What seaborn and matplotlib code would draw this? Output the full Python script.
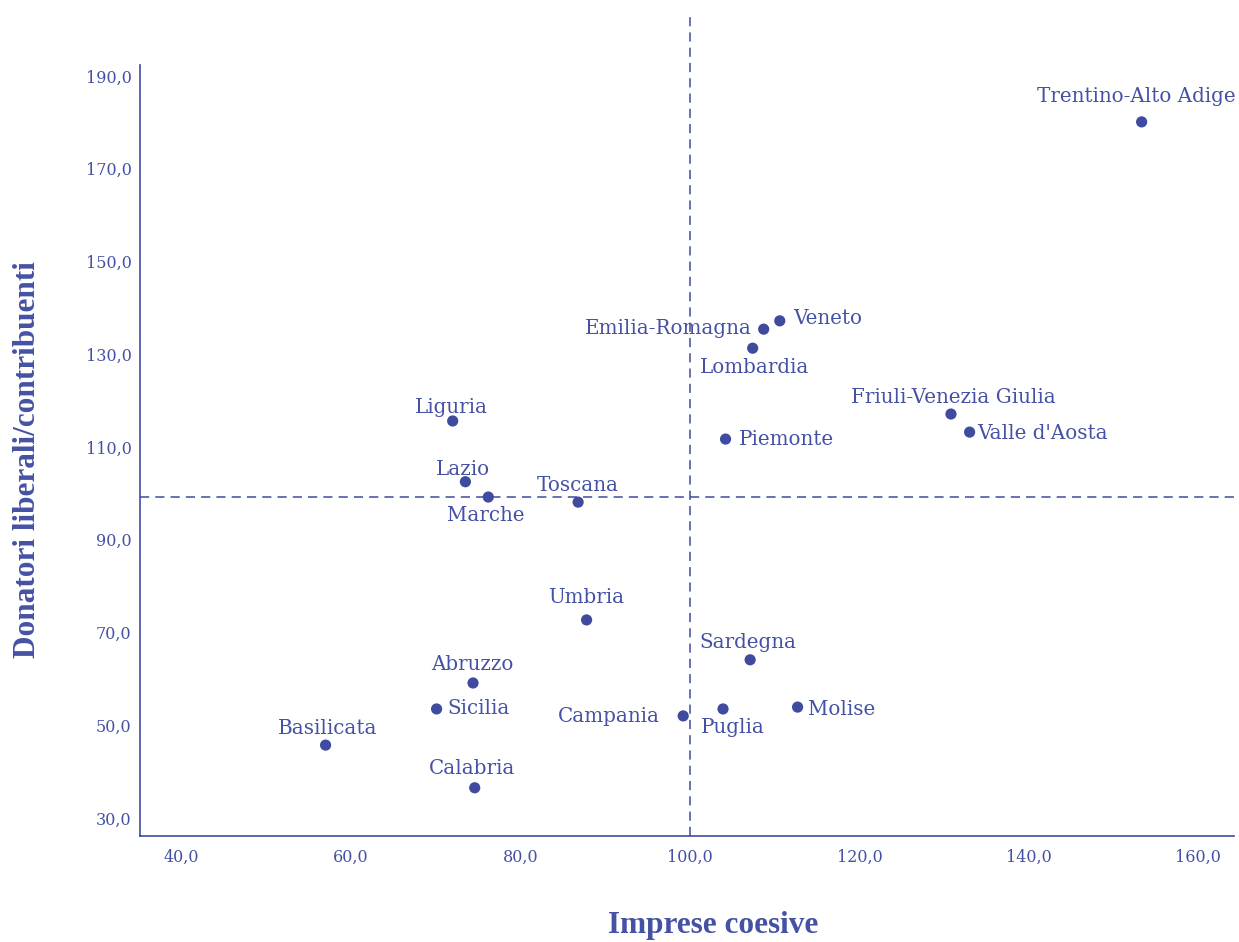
import matplotlib
matplotlib.use('Agg')
import matplotlib.pyplot as plt
import seaborn as sns
import pandas as pd

# Data
REGIONS = ['Trentino-Alto Adige', 'Veneto', 'Emilia-Romagna', 'Lombardia',
           'Friuli-Venezia Giulia', "Valle d'Aosta", 'Piemonte', 'Liguria',
           'Lazio', 'Marche', 'Toscana', 'Umbria', 'Sardegna', 'Abruzzo',
           'Sicilia', 'Campania', 'Puglia', 'Molise', 'Basilicata', 'Calabria']
IMPRESE = [153.3, 110.6, 108.7, 107.4, 130.8, 133.0, 104.2, 72.0,
           73.5, 76.2, 86.8, 87.8, 107.1, 74.4, 70.1, 99.2, 103.9, 112.7, 57.0, 74.6]
DONATORI = [180.1, 137.2, 135.4, 131.3, 117.1, 113.2, 111.7, 115.6,
            102.5, 99.2, 98.1, 72.7, 64.1, 59.1, 53.5, 52.0, 53.5, 53.9, 45.7, 36.5]
X_TICKS = [40, 60, 80, 100, 120, 140, 160]
Y_TICKS = [30, 50, 70, 90, 110, 130, 150, 170, 190]
REF_X = 100.0
REF_Y = 99.2

# label placement: (dx px, dy px, horizontal alignment)
LABEL_POS = {
    'Trentino-Alto Adige': (-5, 25, 'center'),
    'Veneto': (13, 2, 'left'),
    'Emilia-Romagna': (-12, 1, 'right'),
    'Lombardia': (2, -19, 'center'),
    'Friuli-Venezia Giulia': (2, 17, 'center'),
    "Valle d'Aosta": (8, -1, 'left'),
    'Piemonte': (13, 0, 'left'),
    'Liguria': (-1, 13, 'center'),
    'Lazio': (-2, 12, 'center'),
    'Marche': (-3, -18, 'center'),
    'Toscana': (0, 17, 'center'),
    'Umbria': (0, 22, 'center'),
    'Sardegna': (-2, 17, 'center'),
    'Abruzzo': (-1, 18, 'center'),
    'Sicilia': (11, 0, 'left'),
    'Campania': (-23, -1, 'right'),
    'Puglia': (10, -19, 'center'),
    'Molise': (10, -2, 'left'),
    'Basilicata': (2, 17, 'center'),
    'Calabria': (-3, 19, 'center'),
}

BLUE = '#3f4b9f'
TEXT = '#4551a4'

sns.set_style('white')
plt.rcParams['font.family'] = ['DejaVu Serif', 'DejaVu Sans']

df = pd.DataFrame({'Regione': REGIONS, 'Imprese': IMPRESE, 'Donatori': DONATORI})

fig = plt.figure(figsize=(12.39, 9.42), dpi=100)
ax = fig.add_axes([140 / 1239, 1 - 836 / 942, (1234 - 140) / 1239, (836 - 12) / 942])

sns.scatterplot(data=df, x='Imprese', y='Donatori', color=BLUE, s=65,
                edgecolor='none', ax=ax, zorder=3)

ax.set_xlim(35.1, 164.2)
ax.set_ylim(26.1, 203.8)

ax.axvline(REF_X, color=BLUE, lw=1.1, dashes=(6, 4), zorder=1)
ax.axhline(REF_Y, color=BLUE, lw=1.1, dashes=(6, 4), zorder=1)

for reg, x, y in zip(REGIONS, IMPRESE, DONATORI):
    dx, dy, ha = LABEL_POS[reg]
    ax.annotate(reg, (x, y), xytext=(dx, dy), textcoords='offset pixels',
                ha=ha, va='center', fontsize=14.3, color=TEXT)

ax.set_xticks(X_TICKS)
ax.set_yticks(Y_TICKS)
ax.set_xticklabels([f'{v:.1f}'.replace('.', ',') for v in X_TICKS])
ax.set_yticklabels([f'{v:.1f}'.replace('.', ',') for v in Y_TICKS])
ax.tick_params(axis='both', length=0, labelsize=11.5, labelcolor=TEXT)
ax.tick_params(axis='x', pad=9)
ax.tick_params(axis='y', pad=6)

for side in ['top', 'right']:
    ax.spines[side].set_visible(False)
for side in ['left', 'bottom']:
    ax.spines[side].set_color(BLUE)
    ax.spines[side].set_linewidth(1.2)
ax.spines['left'].set_bounds(26.1, 192.4)

ax.set_xlabel('')
ax.set_ylabel('')
fig.text(713 / 1239, 1 - 925 / 942, 'Imprese coesive', ha='center', va='center',
         fontsize=22.5, fontweight='bold', color=TEXT, family='Liberation Serif')
fig.text(28 / 1239, 1 - 460 / 942, 'Donatori liberali/contribuenti', ha='center',
         va='center', rotation=90, fontsize=22.5, fontweight='bold', color=TEXT,
         family='Liberation Serif')

plt.savefig('out.png', dpi=100)
